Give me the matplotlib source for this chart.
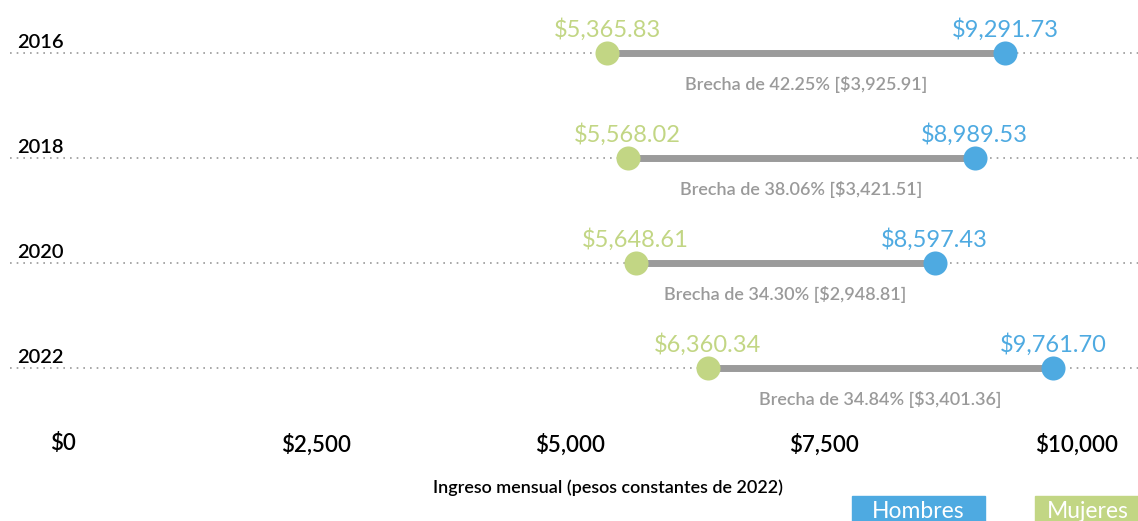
import matplotlib
matplotlib.use("Agg")
import matplotlib.pyplot as plt
from matplotlib.patches import Rectangle

years = ["2016", "2018", "2020", "2022"]
mujeres = [5365.83, 5568.02, 5648.61, 6360.34]
hombres = [9291.73, 8989.53, 8597.43, 9761.70]
brecha_pct = [42.25, 38.06, 34.30, 34.84]
brecha_abs = [3925.91, 3421.51, 2948.81, 3401.36]
xticks = [0, 2500, 5000, 7500, 10000]
series_names = ["Hombres", "Mujeres"]

C_H = "#4eaae1"
C_M = "#c2d684"
C_LINE = "#9b9b9b"
C_TXT = "#9a9a9a"

plt.rcParams["font.family"] = ["Lato", "DejaVu Sans"]

W, H = 1138, 521
fig = plt.figure(figsize=(W / 100, H / 100), dpi=100)
ax_bottom_px = 425
ax = fig.add_axes([0, (H - ax_bottom_px) / H, 1, ax_bottom_px / H])

ppd = (1077 - 63) / 10000.0
ax.set_xlim(-63 / ppd, (W - 63) / ppd)
row_px = 105
ax.set_ylim((ax_bottom_px - 53) / row_px, -53 / row_px)

for i, yr in enumerate(years):
    ax.plot([ax.get_xlim()[0] + 10 / ppd, ax.get_xlim()[1]], [i, i], color="#999999",
            lw=1.2, linestyle=(0, (1, 3)), zorder=1)
    ax.plot([mujeres[i], hombres[i]], [i, i], color=C_LINE, lw=5, zorder=2,
            solid_capstyle="butt")
    ax.scatter([mujeres[i]], [i], s=300, color=C_M, zorder=3, linewidths=0)
    ax.scatter([hombres[i]], [i], s=300, color=C_H, zorder=3, linewidths=0)
    ax.text(mujeres[i], i - 0.12, f"${mujeres[i]:,.2f}", color=C_M, fontsize=17,
            ha="center", va="bottom")
    ax.text(hombres[i], i - 0.12, f"${hombres[i]:,.2f}", color=C_H, fontsize=17,
            ha="center", va="bottom")
    ax.text((mujeres[i] + hombres[i]) / 2, i + 0.30,
            f"Brecha de {brecha_pct[i]:.2f}% [${brecha_abs[i]:,.2f}]",
            color=C_TXT, fontsize=13, ha="center", va="center", fontweight=600)
    ax.text(ax.get_xlim()[0] + 17 / ppd, i - 0.02, yr, color="black", fontsize=14.5,
            ha="left", va="bottom", fontweight=600)

ax.set_xticks(xticks)
ax.set_xticklabels([f"${v:,.0f}" for v in xticks], fontsize=16, fontweight=600)
ax.tick_params(axis="x", length=0, pad=6)
ax.set_yticks([])
for s in ax.spines.values():
    s.set_visible(False)
ax.set_xlabel("Ingreso mensual (pesos constantes de 2022)", fontsize=13,
              fontweight=600)
ax.xaxis.set_label_coords(608 / W, -(488 - ax_bottom_px) / ax_bottom_px)
ax.xaxis.label.set_va("center")

boxes = [(852, 985, C_H), (1035, 1140, C_M)]
for name, (x0, x1, c) in zip(series_names, boxes):
    fig.patches.append(Rectangle((x0 / W, 0), (x1 - x0) / W, 25 / H,
                                 transform=fig.transFigure, color=c, zorder=0))
    fig.text((x0 + x1) / 2 / W, 10 / H, name, color="white", fontsize=16.5,
             ha="center", va="center")

fig.savefig("out.png", dpi=100)
